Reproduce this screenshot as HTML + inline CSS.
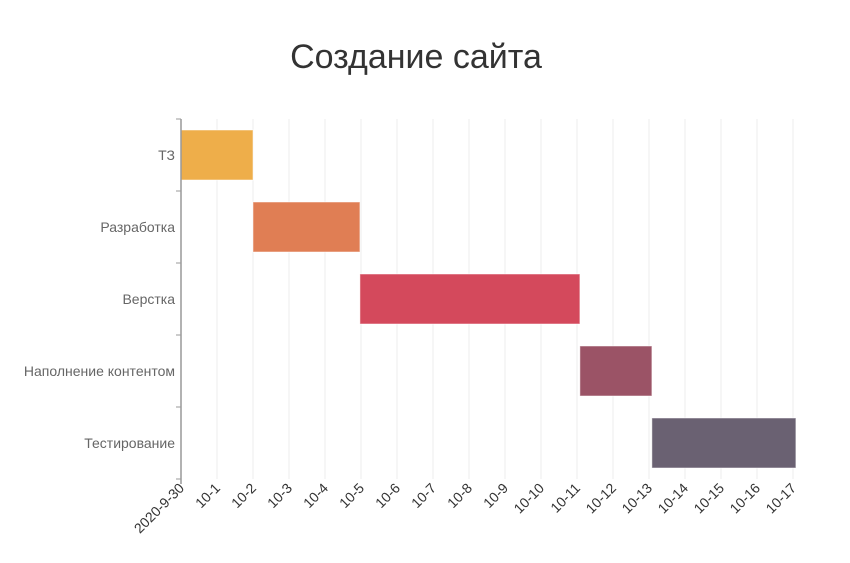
<!DOCTYPE html>
<html><head><meta charset="utf-8"><style>
body{margin:0;background:#fff;}
svg{display:block;font-family:"Liberation Sans","DejaVu Sans",sans-serif;}
</style></head><body>
<svg id="chart" width="850" height="563">
<defs><clipPath id="lc"><rect x="22" y="0" width="830" height="563"/></clipPath></defs>
<text x="416" y="68" text-anchor="middle" font-size="34" fill="#333">Создание сайта</text>
<g id="grid"></g><g id="bars"></g><g id="axes" clip-path="url(#lc)"></g>
</svg>
<script>
const tasks=["ТЗ","Разработка","Верстка","Наполнение контентом","Тестирование"];
const starts=[0,2,4.97,11.08,13.08];
const ends=[2,4.97,11.08,13.08,17.08];
const colors=["#eeae4a","#e07e54","#d4495c","#9b5366","#6a6172"];
const tickLabels=["2020-9-30","10-1","10-2","10-3","10-4","10-5","10-6","10-7","10-8","10-9","10-10","10-11","10-12","10-13","10-14","10-15","10-16","10-17"];
const NS="http://www.w3.org/2000/svg";
const x0=181,dx=36,y0=119,rowH=72;
const xs=v=>x0+v*dx;
const ys=i=>y0+i*rowH;
function mk(t,a,p){const e=document.createElementNS(NS,t);for(const k in a)e.setAttribute(k,a[k]);p.appendChild(e);return e;}
const grid=document.getElementById('grid'),bars=document.getElementById('bars'),axes=document.getElementById('axes');
tickLabels.forEach((l,i)=>{
 if(i>0){const g=mk('line',{x1:xs(i),x2:xs(i),y1:y0,y2:ys(tasks.length),stroke:'#eee','stroke-width':1},grid);
 
 }
 const t=mk('text',{x:xs(i)+4,y:ys(tasks.length)+10,'font-size':14,fill:'#333','text-anchor':'end',transform:`rotate(-45 ${xs(i)+4} ${ys(tasks.length)+10})`},axes);
 t.textContent=l;
 
 
});
tasks.forEach((n,i)=>{
 const r=mk('rect',{x:xs(starts[i]),y:ys(i)+11,width:xs(ends[i])-xs(starts[i]),height:50,fill:colors[i],stroke:'rgba(255,255,255,0.5)'},bars);
 
 
 const t=mk('text',{x:175,y:ys(i)+41,'font-size':14,fill:'#666','text-anchor':'end'},axes);
 t.textContent=n;
 
 
 const k=mk('line',{x1:176,x2:181,y1:ys(i+1),y2:ys(i+1),stroke:'#999'},axes);
 
 
});
const ya=mk('line',{x1:181,x2:181,y1:y0,y2:ys(tasks.length)+5,stroke:'#999','stroke-width':1.5},axes);


const yt=mk('line',{x1:176,x2:181,y1:y0,y2:y0,stroke:'#999'},axes);


</script>
</body></html>
